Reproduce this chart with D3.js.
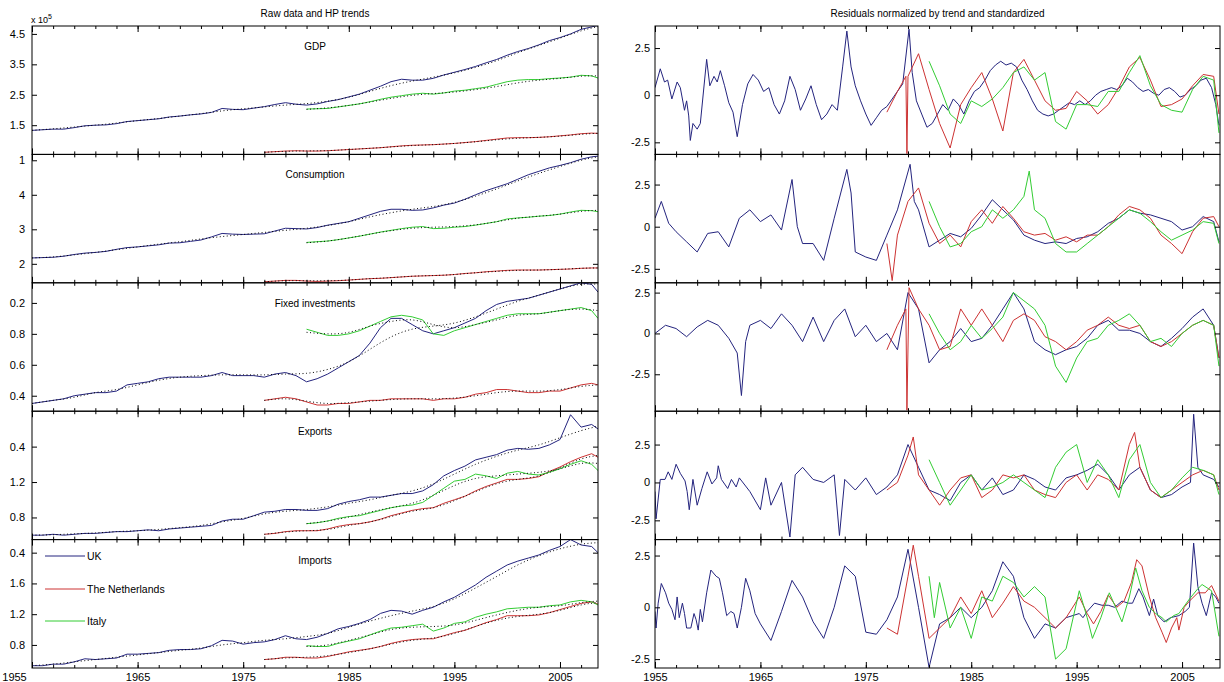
<!DOCTYPE html>
<html><head><meta charset="utf-8">
<script src="https://cdn.jsdelivr.net/npm/d3@7"></script>
<style>body{margin:0;background:#fff}svg{display:block}text{font-family:"Liberation Sans",Arial,sans-serif;fill:#000}</style>
</head><body><svg id="c" width="1224" height="682"></svg>
<script>
// ---------- categories ----------
const countries = ["UK","The Netherlands","Italy"];
const variables = ["GDP","Consumption","Fixed investments","Exports","Imports"];
const yrsUK = d3.range(1955, 2009).concat([2008.6]);
const yrsNL = d3.range(1977, 2009).concat([2008.6]);
const yrsIT = d3.range(1981, 2009).concat([2008.6]);
const trYrsUK = d3.range(1955, 2008, 2).concat([2008.6]);
const trYrsNL = d3.range(1977, 2008, 2).concat([2008.6]);
const trYrsIT = d3.range(1981, 2008, 2).concat([2008.6]);
const xTickLabels = ["1955","1965","1975","1985","1995","2005"];

// ---------- raw data ----------
const gdpUK = [1.33,1.35,1.37,1.37,1.42,1.48,1.50,1.51,1.55,1.62, 1.65,1.68,1.71,1.77,1.80,1.84,1.87,1.92,2.05,2.02, 2.01,2.06,2.11,2.18,2.24,2.19,2.16,2.20,2.28,2.34, 2.43,2.52,2.65,2.78,2.93,3.01,2.98,2.98,3.04,3.15, 3.24,3.33,3.43,3.55,3.66,3.80,3.92,4.02,4.14,4.28, 4.38,4.50,4.65,4.73, 4.78];
const gdpNL = [0.61,0.63,0.65,0.66,0.65,0.65,0.66,0.68,0.70,0.72, 0.74,0.76,0.79,0.82,0.84,0.85,0.86,0.88,0.90,0.93, 0.96,1.00,1.04,1.08,1.09,1.09,1.10,1.12,1.15,1.18, 1.22,1.24, 1.23];
const gdpIT = [2.03,2.04,2.05,2.10,2.15,2.20,2.27,2.35,2.42,2.47, 2.52,2.55,2.52,2.56,2.62,2.65,2.70,2.75,2.84,2.93, 2.98,3.00,3.00,3.03,3.05,3.08,3.14,3.12, 3.05];
const conUK = [2.17,2.18,2.19,2.22,2.27,2.31,2.33,2.36,2.42,2.47, 2.49,2.52,2.55,2.60,2.61,2.65,2.69,2.78,2.88,2.86, 2.85,2.86,2.87,2.95,3.03,3.02,3.01,3.05,3.12,3.17, 3.22,3.32,3.42,3.52,3.58,3.58,3.55,3.56,3.62,3.70, 3.76,3.87,4.00,4.12,4.22,4.32,4.45,4.58,4.68,4.78, 4.85,4.93,5.03,5.10, 5.12];
const conNL = [1.48,1.50,1.52,1.52,1.50,1.49,1.50,1.51,1.53,1.55, 1.57,1.58,1.60,1.62,1.64,1.65,1.66,1.67,1.69,1.72, 1.74,1.77,1.79,1.81,1.82,1.82,1.82,1.83,1.84,1.85, 1.87,1.88, 1.88];
const conIT = [2.62,2.64,2.66,2.70,2.75,2.80,2.86,2.92,2.97,3.02, 3.06,3.08,3.02,3.03,3.06,3.08,3.12,3.17,3.22,3.30, 3.33,3.35,3.38,3.40,3.44,3.50,3.55,3.54, 3.51];
const invUK = [0.35,0.36,0.37,0.38,0.40,0.41,0.42,0.42,0.43,0.47, 0.48,0.49,0.51,0.52,0.52,0.52,0.52,0.53,0.55,0.53, 0.53,0.53,0.52,0.54,0.55,0.53,0.49,0.51,0.54,0.58, 0.62,0.66,0.74,0.84,0.90,0.90,0.86,0.82,0.80,0.82, 0.84,0.87,0.90,0.95,0.99,1.01,1.02,1.03,1.05,1.07, 1.09,1.11,1.13,1.12, 1.07];
const invNL = [0.37,0.38,0.39,0.38,0.36,0.34,0.34,0.35,0.35,0.36, 0.37,0.37,0.38,0.38,0.38,0.38,0.37,0.38,0.38,0.39, 0.41,0.42,0.44,0.44,0.43,0.42,0.42,0.43,0.43,0.45, 0.47,0.48, 0.47];
const invIT = [0.83,0.81,0.79,0.79,0.80,0.82,0.85,0.88,0.91,0.92, 0.91,0.89,0.80,0.79,0.82,0.84,0.86,0.88,0.90,0.92, 0.93,0.93,0.93,0.94,0.95,0.96,0.97,0.95, 0.90];
const expUK = [0.60,0.60,0.61,0.60,0.61,0.62,0.62,0.63,0.64,0.64, 0.65,0.66,0.65,0.67,0.68,0.69,0.70,0.71,0.76,0.78, 0.78,0.82,0.86,0.87,0.89,0.89,0.88,0.88,0.90,0.95, 0.98,1.00,1.03,1.03,1.05,1.07,1.07,1.10,1.17,1.27, 1.33,1.38,1.45,1.48,1.51,1.56,1.58,1.57,1.58,1.62, 1.68,1.96,1.82,1.85, 1.80];
const expNL = [0.61,0.62,0.64,0.65,0.65,0.65,0.67,0.70,0.72,0.73, 0.75,0.78,0.82,0.85,0.88,0.90,0.91,0.96,1.00,1.04, 1.10,1.15,1.19,1.23,1.23,1.24,1.26,1.32,1.37,1.43, 1.48,1.52, 1.48];
const expIT = [0.73,0.74,0.76,0.79,0.81,0.82,0.85,0.88,0.91,0.93, 0.94,0.97,1.05,1.13,1.21,1.23,1.29,1.27,1.24,1.30, 1.32,1.29,1.28,1.31,1.35,1.40,1.44,1.40, 1.33];
const impUK = [0.53,0.53,0.55,0.55,0.58,0.62,0.61,0.62,0.63,0.68, 0.68,0.69,0.70,0.73,0.74,0.74,0.75,0.79,0.86,0.85, 0.81,0.83,0.84,0.87,0.92,0.88,0.87,0.90,0.95,1.01, 1.04,1.08,1.13,1.21,1.25,1.24,1.20,1.25,1.29,1.36, 1.42,1.50,1.58,1.68,1.76,1.84,1.89,1.93,1.97,2.03, 2.08,2.17,2.10,2.08, 2.00];
const impNL = [0.61,0.62,0.64,0.64,0.63,0.63,0.65,0.68,0.71,0.73, 0.75,0.78,0.82,0.85,0.87,0.88,0.88,0.92,0.96,0.99, 1.04,1.09,1.13,1.18,1.18,1.18,1.19,1.22,1.26,1.30, 1.34,1.36, 1.33];
const impIT = [0.79,0.78,0.78,0.82,0.85,0.88,0.93,0.98,1.02,1.03, 1.05,1.07,0.98,1.02,1.08,1.10,1.16,1.20,1.23,1.27, 1.28,1.29,1.29,1.31,1.32,1.36,1.38,1.36, 1.32];

// ---------- HP trends ----------
const gdpUKtr = [1.33,1.38,1.44,1.50,1.57,1.65,1.72,1.80,1.88,1.97,2.04,2.10,2.16,2.21,2.29,2.42,2.61,2.80,2.95,3.08,3.22,3.40,3.62,3.88,4.12,4.36,4.60,4.74];
const gdpNLtr = [0.61,0.64,0.655,0.665,0.70,0.74,0.785,0.83,0.86,0.90,0.955,1.02,1.07,1.10,1.14,1.20,1.235];
const gdpITtr = [2.02,2.07,2.15,2.26,2.38,2.48,2.54,2.59,2.67,2.77,2.89,2.98,3.04,3.11,3.12];
const conUKtr = [2.17,2.20,2.26,2.33,2.41,2.49,2.57,2.64,2.72,2.79,2.85,2.91,2.97,3.03,3.11,3.22,3.36,3.48,3.58,3.66,3.78,3.96,4.17,4.40,4.62,4.82,5.00,5.10];
const conNLtr = [1.48,1.51,1.51,1.51,1.53,1.57,1.60,1.64,1.66,1.69,1.74,1.78,1.81,1.82,1.84,1.87,1.88];
const conITtr = [2.61,2.66,2.75,2.86,2.96,3.03,3.06,3.08,3.13,3.22,3.32,3.38,3.44,3.52,3.55];
const invUKtr = [0.35,0.37,0.39,0.42,0.44,0.47,0.50,0.52,0.53,0.535,0.535,0.535,0.54,0.545,0.57,0.62,0.70,0.78,0.83,0.85,0.87,0.91,0.96,1.01,1.05,1.09,1.12,1.12];
const invNLtr = [0.37,0.38,0.365,0.35,0.355,0.365,0.375,0.38,0.38,0.385,0.40,0.42,0.43,0.43,0.44,0.46,0.47];
const invITtr = [0.81,0.80,0.81,0.85,0.88,0.89,0.86,0.84,0.86,0.89,0.92,0.93,0.95,0.96,0.95];
const expUKtr = [0.60,0.605,0.615,0.625,0.64,0.65,0.665,0.685,0.71,0.75,0.79,0.84,0.87,0.89,0.92,0.96,1.00,1.05,1.10,1.18,1.29,1.40,1.49,1.56,1.62,1.70,1.78,1.83];
const expNLtr = [0.61,0.635,0.65,0.665,0.71,0.75,0.81,0.87,0.91,0.99,1.09,1.18,1.23,1.27,1.36,1.46,1.50];
const expITtr = [0.73,0.76,0.805,0.86,0.91,0.96,1.05,1.16,1.24,1.27,1.29,1.31,1.35,1.41,1.41];
const impUKtr = [0.53,0.55,0.58,0.61,0.64,0.67,0.70,0.73,0.76,0.80,0.83,0.86,0.88,0.91,0.95,1.03,1.11,1.18,1.24,1.30,1.40,1.54,1.69,1.84,1.96,2.05,2.11,2.13];
const impNLtr = [0.61,0.63,0.64,0.66,0.70,0.75,0.81,0.86,0.89,0.95,1.04,1.12,1.17,1.20,1.25,1.32,1.35];
const impITtr = [0.78,0.80,0.86,0.93,1.00,1.03,1.04,1.06,1.12,1.19,1.25,1.29,1.31,1.35,1.37];

// ---------- residuals [year, value] ----------
const resGdpUK = [[1955,0.4],[1955.5,1.4],[1955.9,0.7],[1956.2,0.8],[1956.6,-0.2],[1957.1,0.7],[1957.4,0.4],[1957.8,-0.8],[1958,-0.3],[1958.2,-1.1],[1958.35,-2.4],[1958.6,-1.5],[1959,-1.8],[1959.3,-1.5],[1959.9,1.9],[1960.2,0.5],[1960.6,1.0],[1960.9,0.7],[1961.2,1.3],[1961.6,0.5],[1962,-0.4],[1962.4,-0.9],[1962.8,-2.2],[1963.3,-0.5],[1963.8,0.6],[1964.3,1.1],[1964.8,0.8],[1965.3,0.2],[1965.8,0.4],[1966.3,-0.5],[1966.8,-1.0],[1967.3,-0.3],[1967.8,1.0],[1968.3,0.3],[1968.8,-0.8],[1969.3,-0.2],[1969.8,0.5],[1970.3,-0.5],[1970.8,-1.3],[1971.3,-1.0],[1971.8,-0.5],[1972.3,-0.8],[1972.8,1.5],[1973.2,3.4],[1973.6,1.5],[1974,0.5],[1974.5,-0.3],[1975,-1.0],[1975.5,-1.6],[1976,-1.2],[1976.5,-0.8],[1977,-0.6],[1977.5,-0.2],[1978,0.2],[1978.5,0.6],[1979.1,3.5],[1979.4,1.2],[1979.8,-0.3],[1980.3,-1.0],[1980.8,-1.7],[1981.3,-1.5],[1981.8,-1.0],[1982.3,-0.5],[1982.8,-0.8],[1983.3,-0.2],[1983.8,-0.5],[1984.3,-1.0],[1984.8,-0.3],[1985.3,0.2],[1985.8,0.4],[1986.3,0.8],[1986.8,1.3],[1987.3,1.6],[1987.8,1.8],[1988.3,1.6],[1988.8,1.7],[1989.3,1.5],[1989.8,0.8],[1990.3,0.3],[1990.8,-0.3],[1991.3,-0.8],[1991.8,-1.0],[1992.3,-1.1],[1992.8,-1.0],[1993.3,-0.8],[1993.8,-0.6],[1994.3,-0.4],[1994.8,-0.5],[1995.3,-0.3],[1995.8,-0.5],[1996.3,-0.3],[1996.8,0.0],[1997.3,0.2],[1997.8,0.3],[1998.3,0.4],[1998.8,0.3],[1999.3,0.5],[1999.8,0.9],[2000.3,0.7],[2000.8,0.4],[2001.3,0.2],[2001.8,0.3],[2002.3,0.1],[2002.8,0.0],[2003.3,0.3],[2003.8,0.4],[2004.3,0.2],[2004.8,-0.1],[2005.3,0.0],[2005.8,0.3],[2006.3,0.5],[2006.8,0.8],[2007.3,0.9],[2007.8,0.4],[2008.2,-0.5],[2008.5,-1.6]];
const resGdpNL = [[1977,-0.9],[1978,0.2],[1978.8,1.0],[1978.9,-3.1],[1979.0,1.0],[1979.5,1.6],[1980,2.2],[1981,0.3],[1982,-1.5],[1983,-2.8],[1984,-0.5],[1985,0.4],[1986,1.2],[1987,-0.2],[1988,-1.9],[1989,1.2],[1990,1.9],[1991,0.8],[1992,-0.3],[1993,-0.8],[1994,-0.7],[1995,0.2],[1996,-0.3],[1997,-1.0],[1998,-0.5],[1999,0.4],[2000,1.5],[2001,2.0],[2002,0.8],[2003,-0.6],[2004,-0.5],[2005,-0.2],[2006,0.5],[2007,1.1],[2008,1.0],[2008.5,-1.0]];
const resGdpIT = [[1981,1.8],[1982,0.5],[1983,-1.0],[1984,-1.5],[1985,-0.3],[1986,-0.6],[1987,-0.2],[1988,0.4],[1989,1.2],[1990,1.5],[1991,0.8],[1992,1.2],[1993,-1.4],[1994,-1.8],[1995,-0.5],[1996,-0.5],[1997,-0.6],[1998,0.2],[1999,0.2],[2000,1.2],[2001,2.1],[2002,0.5],[2003,-0.5],[2004,-0.8],[2005,-0.9],[2006,0.3],[2007,1.0],[2008,0.8],[2008.5,-2.0]];
const resConUK = [[1955,0.5],[1955.6,1.5],[1956.3,0.2],[1957,-0.3],[1958,-0.9],[1959,-1.5],[1960,-0.4],[1961,-0.3],[1962,-1.2],[1963,0.5],[1964,1.0],[1965,0.3],[1966,0.7],[1967,-0.2],[1968,2.8],[1968.5,0.0],[1969,-1.0],[1970,-1.0],[1971,-2.0],[1972,0.5],[1973.2,3.4],[1973.6,2.0],[1974,-1.5],[1975,-1.8],[1976,-2.0],[1977,-0.5],[1978,1.0],[1979.2,3.7],[1979.6,1.5],[1980,1.0],[1981,-1.2],[1982,-0.8],[1983,-0.4],[1984,-0.6],[1985,-0.1],[1986,0.7],[1987,1.6],[1988,1.0],[1989,0.4],[1990,-0.5],[1991,-0.8],[1992,-1.0],[1993,-0.9],[1994,-1.0],[1995,-0.7],[1996,-0.6],[1997,-0.3],[1998,0.2],[1999,0.5],[2000,1.0],[2001,0.8],[2002,0.7],[2003,0.5],[2004,0.3],[2005,-0.2],[2006,0.0],[2007,0.6],[2008,0.3],[2008.5,-0.9]];
const resConNL = [[1977,-1.0],[1977.5,-3.2],[1978,-0.5],[1979,1.5],[1980,2.3],[1981,0.2],[1982,-1.0],[1983,-0.5],[1984,-1.2],[1985,0.3],[1986,1.0],[1987,0.2],[1988,1.2],[1989,0.5],[1990,-0.3],[1991,-0.5],[1992,-0.4],[1993,-0.8],[1994,-0.6],[1995,-0.9],[1996,-0.5],[1997,-0.5],[1998,0.0],[1999,0.7],[2000,1.2],[2001,1.0],[2002,0.5],[2003,-0.5],[2004,-1.0],[2005,-1.6],[2006,-0.3],[2007,0.5],[2008,0.6],[2008.5,0.0]];
const resConIT = [[1981,1.5],[1982,0.0],[1983,-1.2],[1984,-1.0],[1985,-0.3],[1986,0.0],[1987,1.0],[1988,0.5],[1989,1.0],[1990,1.8],[1990.5,3.3],[1991,1.0],[1992,0.5],[1993,-1.0],[1994,-1.5],[1995,-1.5],[1996,-1.0],[1997,-0.5],[1998,0.0],[1999,0.5],[2000,1.0],[2001,0.8],[2002,0.3],[2003,-0.3],[2004,-0.8],[2005,-0.5],[2006,-0.2],[2007,0.3],[2008,0.2],[2008.5,-1.0]];
const resInvUK = [[1955,0.0],[1956,0.5],[1957,0.3],[1958,-0.2],[1959,0.4],[1960,0.8],[1961,0.5],[1962,-0.3],[1962.8,-1.2],[1963.2,-3.8],[1963.6,-0.5],[1964,0.5],[1965,0.8],[1966,0.3],[1967,1.2],[1968,0.5],[1969,-0.5],[1970,1.0],[1971,-0.5],[1972,0.8],[1973,1.5],[1974,-0.2],[1975,0.5],[1976,-0.5],[1977,0.0],[1978,-1.0],[1979,2.5],[1980,1.5],[1981,-1.8],[1982,-1.0],[1983,-0.5],[1984,0.3],[1985,-0.5],[1986,-0.3],[1987,0.5],[1988,1.5],[1989,2.5],[1990,1.5],[1991,-0.5],[1992,-1.0],[1993,-1.3],[1994,-1.0],[1995,-0.8],[1996,-0.3],[1997,0.5],[1998,0.8],[1999,0.2],[2000,0.2],[2001,0.0],[2002,-0.5],[2003,-0.8],[2004,-0.3],[2005,0.3],[2006,1.0],[2007,1.5],[2008,0.5],[2008.5,-1.5]];
const resInvNL = [[1977,-1.0],[1978,0.5],[1978.8,1.5],[1978.9,-4.7],[1979.1,2.8],[1980,1.5],[1981,0.5],[1982,-1.0],[1983,-0.8],[1984,1.5],[1985,0.5],[1986,1.5],[1987,0.5],[1988,-0.5],[1989,0.8],[1990,1.2],[1991,0.8],[1992,-0.2],[1993,-0.5],[1994,-1.0],[1995,-0.5],[1996,0.2],[1997,0.5],[1998,1.0],[1999,0.5],[2000,0.3],[2001,0.5],[2002,-0.5],[2003,-0.8],[2004,-0.5],[2005,0.0],[2006,0.5],[2007,0.8],[2008,0.5],[2008.5,-1.5]];
const resInvIT = [[1981,1.2],[1982,0.0],[1983,-1.0],[1984,-0.5],[1985,0.5],[1986,-0.3],[1987,0.3],[1988,1.0],[1989,2.5],[1990,2.0],[1991,1.5],[1992,0.5],[1993,-2.0],[1994,-3.0],[1995,-1.5],[1996,-0.5],[1997,-0.3],[1998,0.5],[1999,0.8],[2000,1.2],[2001,0.5],[2002,-0.5],[2003,-0.3],[2004,-0.8],[2005,0.0],[2006,0.5],[2007,0.8],[2008,0.5],[2008.5,-2.0]];
const resExpUK = [[1955,-0.6],[1955.1,-2.4],[1955.5,0.2],[1955.95,0.2],[1956.25,0.7],[1956.6,0.2],[1957.0,1.2],[1957.4,0.6],[1957.85,0.1],[1958.05,-0.6],[1958.25,-1.8],[1958.6,0.2],[1959.0,-1.5],[1959.45,-0.4],[1959.95,0.7],[1960.4,-0.1],[1960.85,0.3],[1961.0,1.1],[1961.3,0.2],[1961.9,-0.4],[1962.25,0.2],[1962.7,-0.3],[1963,0.3],[1964,-0.6],[1965,-1.8],[1965.5,0.3],[1966,-1.5],[1967,0.0],[1967.8,-3.6],[1968.3,0.5],[1969,1.0],[1970,0.2],[1971,0.0],[1972,0.5],[1972.5,-3.5],[1973,0.2],[1974,-0.5],[1975,0.3],[1976,-0.8],[1977,-0.3],[1978,0.5],[1979,2.5],[1980,1.0],[1981,-0.5],[1982,-0.8],[1983,-1.2],[1984,0.0],[1985,0.5],[1986,-0.5],[1987,0.3],[1988,-0.8],[1989,-0.5],[1990,0.5],[1991,0.2],[1992,-0.3],[1993,-0.5],[1994,0.3],[1995,0.5],[1996,0.8],[1997,1.2],[1998,0.5],[1999,-0.5],[2000,0.5],[2001,1.0],[2002,-0.5],[2003,-1.0],[2004,-0.8],[2005,-0.3],[2005.8,0.0],[2006.1,4.5],[2006.5,1.0],[2007,0.5],[2008,0.2],[2008.5,-0.3]];
const resExpNL = [[1977,-0.5],[1978,0.0],[1979,1.8],[1979.5,3.0],[1980,0.5],[1981,-0.5],[1982,-1.5],[1983,-0.5],[1984,0.3],[1985,0.5],[1986,-1.0],[1987,-0.5],[1988,0.5],[1989,0.3],[1990,0.5],[1991,-0.5],[1992,-0.8],[1993,-1.0],[1994,0.0],[1995,0.5],[1996,-0.5],[1997,0.5],[1998,0.2],[1999,-0.5],[2000,2.5],[2000.5,3.3],[2001,1.0],[2002,-0.5],[2003,-1.0],[2004,-0.5],[2005,0.0],[2006,0.5],[2007,0.8],[2008,0.5],[2008.5,-0.5]];
const resExpIT = [[1981,1.5],[1982,0.0],[1983,-1.5],[1984,-0.5],[1985,0.5],[1986,-0.5],[1987,-0.3],[1988,0.0],[1989,0.5],[1990,0.0],[1991,-0.5],[1992,-1.0],[1993,1.0],[1994,2.0],[1995,2.5],[1996,0.0],[1997,1.5],[1998,0.5],[1999,-1.0],[2000,1.5],[2001,2.5],[2002,0.0],[2003,-1.0],[2004,-0.5],[2005,0.3],[2006,1.0],[2007,0.8],[2008,0.5],[2008.5,-0.8]];
const resImpUK = [[1955,-0.2],[1955.1,-1.0],[1955.3,0.2],[1955.6,1.15],[1956.0,0.7],[1956.3,0.2],[1956.6,-0.1],[1956.9,-0.6],[1957.1,0.5],[1957.3,-0.5],[1957.6,0.2],[1957.8,-0.3],[1958.0,-1.0],[1958.4,-1.0],[1958.7,-0.3],[1958.9,-0.6],[1959.1,-1.1],[1959.3,-0.1],[1959.5,-0.7],[1959.9,0.7],[1960.3,1.8],[1960.8,1.5],[1961.1,1.4],[1961.4,0.7],[1961.8,-0.4],[1962.2,-0.2],[1962.5,-0.3],[1962.8,-1.0],[1963.2,0.0],[1963.6,1.4],[1964,0.8],[1964.5,-0.3],[1965,-0.8],[1966,-1.6],[1967,-0.2],[1968,1.3],[1969,0.5],[1970,-0.7],[1971,-1.5],[1972,0.0],[1973,2.0],[1974,1.5],[1975,-1.2],[1976,-1.3],[1977,-0.6],[1978,0.5],[1979,2.8],[1980,0.0],[1981,-2.9],[1982,-0.8],[1983,-0.5],[1984,0.0],[1985,-0.5],[1986,0.0],[1987,0.8],[1988,2.2],[1989,1.5],[1990,-0.5],[1991,-1.5],[1992,-0.8],[1993,-1.0],[1994,-0.5],[1995.25,-0.3],[1995.6,-0.5],[1996.0,-0.2],[1996.7,0.2],[1997.4,0.1],[1998.0,0.1],[1998.6,0.0],[1999.3,0.3],[1999.9,0.2],[2000.3,0.2],[2000.9,0.9],[2001.3,0.5],[2001.9,-0.4],[2002.3,0.4],[2002.7,-0.4],[2003.3,-0.7],[2003.9,-0.5],[2004.7,-0.4],[2005.3,-0.2],[2005.7,0.0],[2006.1,3.1],[2006.5,1.0],[2006.9,0.2],[2007.3,-0.4],[2007.8,0.7],[2008.2,0.5],[2008.5,0.2]];
const resImpNL = [[1977,-1.0],[1978,-1.3],[1979,1.5],[1979.5,3.0],[1980,1.5],[1981,-1.5],[1982,-1.0],[1983,-0.5],[1984,0.5],[1985,-0.3],[1986,0.8],[1987,-0.5],[1988,0.2],[1989,1.0],[1990,0.3],[1991,0.0],[1992,-0.5],[1993,-1.0],[1994,-0.5],[1995.25,0.5],[1996,-0.3],[1996.6,-0.8],[1997.3,-0.2],[1998,0.6],[1998.8,0.0],[1999.5,0.3],[2000.2,1.2],[2000.7,2.3],[2001.2,2.0],[2001.9,0.5],[2002.5,-0.5],[2003.1,-1.2],[2003.5,-1.7],[2004.0,-1.0],[2004.5,-0.5],[2004.7,-1.1],[2005.2,0.0],[2005.7,0.3],[2006.5,0.7],[2007.2,0.7],[2007.8,1.05],[2008.5,0.3]];
const resImpIT = [[1981,1.5],[1981.5,-0.5],[1982,1.2],[1983,-1.0],[1984,0.0],[1985,-1.5],[1986,0.5],[1987,0.3],[1988,1.5],[1989,1.2],[1990,0.5],[1991,1.0],[1992,0.5],[1993,-2.5],[1994,-2.0],[1995.25,0.8],[1996.0,-0.5],[1996.5,-1.5],[1997.3,-0.5],[1998.1,0.7],[1998.7,0.0],[1999.3,-0.7],[2000.0,0.5],[2000.6,1.9],[2001.2,0.8],[2001.9,0.0],[2002.5,-0.3],[2003.1,-0.5],[2003.5,-0.7],[2004.2,-0.4],[2004.7,-0.3],[2005.7,0.4],[2006.5,0.9],[2006.9,1.1],[2007.8,0.8],[2008.5,-1.4]];

// ---------- axis tick values / labels ----------
const leftTicks = [[1.5,2.5,3.5,4.5],[2,3,4,5],[0.4,0.6,0.8,1.0],[0.8,1.2,1.6],[0.8,1.2,1.6,2.0]];
const leftTickLabels = [["1.5","2.5","3.5","4.5"],["2","3","4","1"],["0.4","0.6","0.8","0.2"],["0.8","1.2","0.4"],["0.8","1.2","1.6","0.4"]];
const leftDomains = [[0.54,4.76],[1.45,5.17],[0.30,1.13],[0.55,2.0],[0.50,2.17]];
const rightTicks = [-2.5,0,2.5];
const rightTickLabels = ["-2.5","0","2.5"];
const rightDomains = [[-3.14,3.67],[-3.33,4.29],[-4.76,3.1],[-3.77,4.7],[-2.93,3.27]];

// ---------- build tables ----------
const colors = ["#24247e","#cc3232","#33cc33"];
const rawTable = [[gdpUK,gdpNL,gdpIT],[conUK,conNL,conIT],[invUK,invNL,invIT],[expUK,expNL,expIT],[impUK,impNL,impIT]];
const trTable = [[gdpUKtr,gdpNLtr,gdpITtr],[conUKtr,conNLtr,conITtr],[invUKtr,invNLtr,invITtr],[expUKtr,expNLtr,expITtr],[impUKtr,impNLtr,impITtr]];
const resTable = [[resGdpUK,resGdpNL,resGdpIT],[resConUK,resConNL,resConIT],[resInvUK,resInvNL,resInvIT],[resExpUK,resExpNL,resExpIT],[resImpUK,resImpNL,resImpIT]];
const rawYears = [yrsUK, yrsNL, yrsIT];
const trYears = [trYrsUK, trYrsNL, trYrsIT];

const svg = d3.select("#c");
const TOP = 26, PH = 128.4;
const XL = [32, 598], XR = [655, 1220];
const xDom = [1955, 2008.6];
const minorX = d3.range(1955, 2009, 2);
const majorX = [1955,1965,1975,1985,1995,2005];

svg.append("text").attr("x", 315).attr("y", 17).attr("text-anchor","middle").style("font-size","10px").text("Raw data and HP trends");
svg.append("text").attr("x", 937.5).attr("y", 17).attr("text-anchor","middle").style("font-size","10px").text("Residuals normalized by trend and standardized");

function drawPanel(i, side) {
  const top = TOP + i*PH, bot = top + PH;
  const XR_ = side === "L" ? XL : XR;
  const x = d3.scaleLinear().domain(xDom).range(XR_);
  const y = d3.scaleLinear().domain(side === "L" ? leftDomains[i] : rightDomains[i]).range([bot, top]);
  const g = svg.append("g");
  const cid = "clip"+side+i;
  g.append("clipPath").attr("id", cid).append("rect").attr("x", XR_[0]).attr("y", top).attr("width", XR_[1]-XR_[0]).attr("height", PH);
  const lines = g.append("g").attr("clip-path", `url(#${cid})`);
  const line = d3.line().x(d => x(d[0])).y(d => y(d[1]));
  if (side === "L") {
    for (let c = 0; c < 3; c++) {
      lines.append("path").attr("d", line(d3.zip(rawYears[c], rawTable[i][c])))
        .attr("fill","none").attr("stroke", colors[c]).attr("stroke-width", 1);
    }
    for (let c = 0; c < 3; c++) {
      lines.append("path").attr("d", d3.line().curve(d3.curveNatural).x(d => x(d[0])).y(d => y(d[1]))(d3.zip(trYears[c], trTable[i][c])))
        .attr("fill","none").attr("stroke", "#000").attr("stroke-width", 1).attr("stroke-dasharray","1,2.5");
    }
    svg.append("text").attr("x", 315).attr("y", top + 24).attr("text-anchor","middle").style("font-size","10px").text(variables[i]);
  } else {
    for (let c = 0; c < 3; c++) {
      lines.append("path").attr("d", line(resTable[i][c]))
        .attr("fill","none").attr("stroke", colors[c]).attr("stroke-width", 1);
    }
  }
  g.append("rect").attr("x", XR_[0]).attr("y", top).attr("width", XR_[1]-XR_[0]).attr("height", PH)
    .attr("fill","none").attr("stroke","#000").attr("stroke-width",1);
  const tv = side === "L" ? leftTicks[i] : rightTicks;
  const tl = side === "L" ? leftTickLabels[i] : rightTickLabels;
  const yl = g.append("g").attr("transform", `translate(${XR_[0]},0)`)
    .call(d3.axisLeft(y).tickValues(tv).tickFormat((d,k) => tl[k]).tickSizeInner(-5).tickSizeOuter(0).tickPadding(side==="L"?7:5));
  yl.select(".domain").remove();
  yl.selectAll("text").style("font-size","11px").style("font-family",'"Liberation Sans",Arial,sans-serif');
  const yr = g.append("g").attr("transform", `translate(${XR_[1]},0)`)
    .call(d3.axisRight(y).tickValues(tv).tickFormat("").tickSizeInner(-5).tickSizeOuter(0));
  yr.select(".domain").remove();
  [[bot, d3.axisBottom], [top, d3.axisTop]].forEach(([yy, ax]) => {
    const gm = g.append("g").attr("transform", `translate(0,${yy})`)
      .call(ax(x).tickValues(minorX).tickFormat("").tickSizeInner(-3).tickSizeOuter(0));
    gm.select(".domain").remove();
    const gM = g.append("g").attr("transform", `translate(0,${yy})`)
      .call(ax(x).tickValues(majorX).tickFormat((d,k) => (i === 4 && ax === d3.axisBottom) ? xTickLabels[k] : "").tickSizeInner(-6).tickSizeOuter(0).tickPadding(5));
    gM.select(".domain").remove();
    gM.selectAll("text").style("font-size","11px").style("font-family",'"Liberation Sans",Arial,sans-serif');
    if (i === 4 && ax === d3.axisBottom && side === "L") {
      gM.selectAll(".tick").filter(d => d === 1955).select("text").attr("x", -18);
    }
  });
  g.selectAll(".tick line").attr("stroke","#000");
}

for (let i = 0; i < 5; i++) { drawPanel(i, "L"); drawPanel(i, "R"); }

const ex = svg.append("text").attr("x", 31).attr("y", 23).style("font-size","9px");
ex.append("tspan").text("x 10");
ex.append("tspan").attr("dy", -4).style("font-size","7px").text("5");

const legY = [556, 589, 621];
countries.forEach((c, k) => {
  svg.append("line").attr("x1", 45).attr("x2", 85).attr("y1", legY[k]).attr("y2", legY[k]).attr("stroke", colors[k]).attr("stroke-width", 1);
  svg.append("text").attr("x", 87).attr("y", legY[k]).attr("dy","0.35em").style("font-size","10.5px").text(c);
});
</script></body></html>
